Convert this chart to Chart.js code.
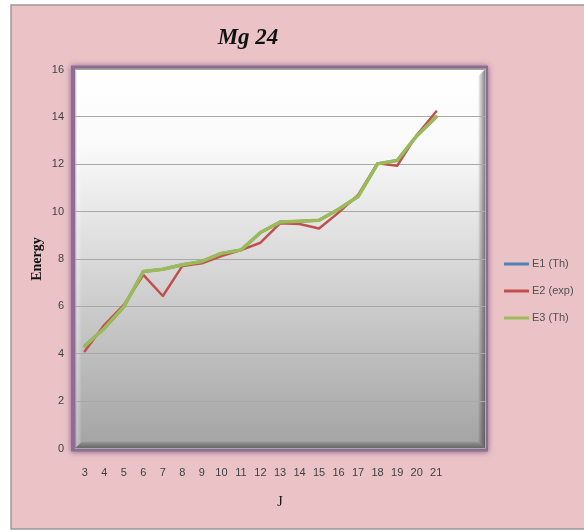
<!DOCTYPE html>
<html>
<head>
<meta charset="utf-8">
<script src="https://cdn.jsdelivr.net/npm/chart.js@4.4.1/dist/chart.umd.min.js"></script>
<style>
  html, body { margin: 0; padding: 0; background: #fff; }
  canvas { display: block; }
</style>
</head>
<body>
<canvas id="chart-area" width="584" height="531"></canvas>
<script>
// J values on the x axis (two empty slots at the end, as in the original)
var jLabels = ['3', '4', '5', '6', '7', '8', '9', '10', '11', '12', '13', '14', '15', '16', '17', '18', '19', '20', '21', '', ''];

var e1_th  = [4.33, 5.07, 5.99, 7.47, 7.57, 7.76, 7.90, 8.24, 8.38, 9.12, 9.56, 9.60, 9.64, 10.10, 10.64, 12.02, 12.16, 13.20, 14.00];
var e2_exp = [4.11, 5.21, 6.06, 7.33, 6.44, 7.71, 7.82, 8.13, 8.38, 8.69, 9.51, 9.48, 9.29, 9.96, 10.71, 12.05, 11.94, 13.23, 14.23];
var e3_th  = [4.33, 5.07, 5.99, 7.47, 7.57, 7.76, 7.90, 8.24, 8.38, 9.12, 9.56, 9.60, 9.64, 10.10, 10.64, 12.02, 12.16, 13.20, 14.00];

var seriesNames  = ['E1 (Th)', 'E2 (exp)', 'E3 (Th)'];
var seriesColors = ['#4f81bd', '#c0504d', '#9bbb59'];

// page background, framed plot area with bevel
var backdrop = {
    id: 'backdrop',
    beforeDraw: function (chart) {
        var ctx = chart.ctx;
        var a = chart.chartArea;
        ctx.save();
        ctx.fillStyle = '#ffffff';
        ctx.fillRect(0, 0, chart.width, chart.height);
        ctx.fillStyle = '#ebc3c7';
        ctx.fillRect(11, 5, chart.width, 524);
        ctx.strokeStyle = '#9a9a9a';
        ctx.lineWidth = 1.5;
        ctx.strokeRect(11, 5, chart.width + 5, 524);

        // purple glow frame
        ctx.shadowColor = 'rgba(110,70,120,0.8)';
        ctx.shadowBlur = 6;
        ctx.fillStyle = '#8d6d94';
        ctx.fillRect(a.left - 4, a.top - 4, a.right - a.left + 7, a.bottom - a.top + 7);
        ctx.shadowBlur = 0;
        ctx.shadowColor = 'transparent';

        // green edge on top and right
        ctx.fillStyle = '#a6c266';
        ctx.fillRect(a.left, a.top - 1, a.right - a.left + 1, 1.5);
        ctx.fillRect(a.right - 0.5, a.top - 1, 1.5, a.bottom - a.top + 1);

        // main gradient
        var g = ctx.createLinearGradient(0, a.top, 0, a.bottom);
        g.addColorStop(0, '#ffffff');
        g.addColorStop(0.2, '#fafafa');
        g.addColorStop(1, '#a3a3a3');
        ctx.fillStyle = g;
        ctx.fillRect(a.left, a.top, a.right - a.left, a.bottom - a.top);

        // bevel: left lighter, right and bottom darker
        var b = 7;
        var gl = ctx.createLinearGradient(a.left, 0, a.left + b, 0);
        gl.addColorStop(0, 'rgba(90,90,90,0.45)');
        gl.addColorStop(0.3, 'rgba(255,255,255,0.35)');
        gl.addColorStop(1, 'rgba(255,255,255,0)');
        ctx.fillStyle = gl;
        ctx.beginPath();
        ctx.moveTo(a.left, a.top);
        ctx.lineTo(a.left + b, a.top + b);
        ctx.lineTo(a.left + b, a.bottom - b);
        ctx.lineTo(a.left, a.bottom);
        ctx.closePath();
        ctx.fill();

        var gr = ctx.createLinearGradient(a.right - b, 0, a.right, 0);
        gr.addColorStop(0, 'rgba(0,0,0,0)');
        gr.addColorStop(1, 'rgba(40,40,40,0.55)');
        ctx.fillStyle = gr;
        ctx.beginPath();
        ctx.moveTo(a.right, a.top);
        ctx.lineTo(a.right - b, a.top + b);
        ctx.lineTo(a.right - b, a.bottom - b);
        ctx.lineTo(a.right, a.bottom);
        ctx.closePath();
        ctx.fill();

        var gb = ctx.createLinearGradient(0, a.bottom - b, 0, a.bottom);
        gb.addColorStop(0, 'rgba(0,0,0,0.05)');
        gb.addColorStop(1, 'rgba(40,40,40,0.5)');
        ctx.fillStyle = gb;
        ctx.beginPath();
        ctx.moveTo(a.left, a.bottom);
        ctx.lineTo(a.left + b, a.bottom - b);
        ctx.lineTo(a.right - b, a.bottom - b);
        ctx.lineTo(a.right, a.bottom);
        ctx.closePath();
        ctx.fill();

        var gt = ctx.createLinearGradient(0, a.top, 0, a.top + b);
        gt.addColorStop(0, 'rgba(255,255,255,1)');
        gt.addColorStop(1, 'rgba(255,255,255,0)');
        ctx.fillStyle = gt;
        ctx.fillRect(a.left + b, a.top, a.right - a.left - 2 * b, b);
        ctx.restore();
    }
};

// legend on the right, drawn from the datasets
var sideLegend = {
    id: 'sideLegend',
    afterDraw: function (chart) {
        var ctx = chart.ctx;
        ctx.save();
        ctx.font = '11px "Liberation Sans", Arial, sans-serif';
        ctx.textBaseline = 'middle';
        ctx.textAlign = 'left';
        chart.data.datasets.forEach(function (ds, i) {
            var y = 264 + i * 27;
            ctx.strokeStyle = ds.borderColor;
            ctx.lineWidth = 3;
            ctx.beginPath();
            ctx.moveTo(504, y);
            ctx.lineTo(529, y);
            ctx.stroke();
            ctx.fillStyle = '#505050';
            ctx.fillText(ds.label, 532, y);
        });
        ctx.restore();
    }
};

var config = {
    type: 'line',
    data: {
        labels: jLabels,
        datasets: [
            { label: seriesNames[0], data: e1_th,  borderColor: seriesColors[0], borderWidth: 3,   order: 2 },
            { label: seriesNames[1], data: e2_exp, borderColor: seriesColors[1], borderWidth: 2.5, order: 1 },
            { label: seriesNames[2], data: e3_th,  borderColor: seriesColors[2], borderWidth: 3.5, order: 0 }
        ]
    },
    options: {
        responsive: false,
        animation: false,
        devicePixelRatio: 1,
        layout: { padding: { left: 11, right: 99, top: 0, bottom: 0 } },
        elements: {
            point: { radius: 0, hoverRadius: 0 },
            line: { tension: 0, fill: false, borderCapStyle: 'round', borderJoinStyle: 'round' }
        },
        plugins: {
            legend: { display: false },
            tooltip: { enabled: false },
            title: {
                display: true,
                text: 'Mg 24',
                color: '#111',
                font: { family: '"Liberation Serif", serif', size: 23, style: 'italic', weight: 'bold' },
                padding: { top: 24, bottom: 18 }
            }
        },
        scales: {
            x: {
                offset: true,
                grid: { display: false, drawTicks: false },
                border: { display: false },
                ticks: {
                    autoSkip: false,
                    maxRotation: 0,
                    padding: 18,
                    color: '#404040',
                    font: { family: '"Liberation Sans", Arial, sans-serif', size: 11 }
                },
                title: {
                    display: true,
                    text: 'J',
                    color: '#111',
                    font: { family: '"Liberation Serif", serif', size: 14 },
                    padding: { top: 0, bottom: 20 }
                },
                afterFit: function (scale) { scale.height = 82.5; }
            },
            y: {
                min: 0,
                max: 16,
                grid: { color: '#a8a8a8', lineWidth: 1, drawTicks: false },
                border: { display: false },
                ticks: {
                    stepSize: 2,
                    padding: 11,
                    color: '#404040',
                    font: { family: '"Liberation Sans", Arial, sans-serif', size: 11 }
                },
                title: {
                    display: true,
                    text: 'Energy',
                    color: '#111',
                    font: { family: '"Liberation Serif", serif', size: 14, weight: 'bold' },
                    padding: { top: 18, bottom: 0 }
                },
                afterFit: function (scale) { scale.width = 64; }
            }
        }
    },
    plugins: [backdrop, sideLegend]
};

var ctx = document.getElementById('chart-area').getContext('2d');
window.myLine = new Chart(ctx, config);
</script>
</body>
</html>
